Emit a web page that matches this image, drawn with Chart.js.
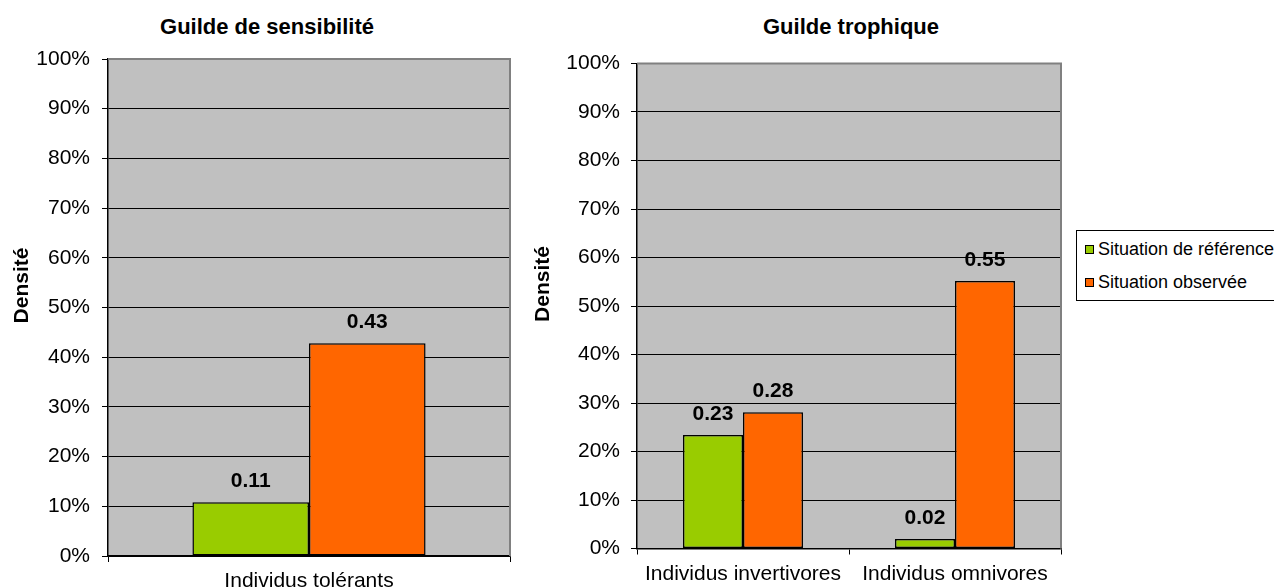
<!DOCTYPE html>
<html>
<head>
<meta charset="utf-8">
<script src="https://cdn.jsdelivr.net/npm/chart.js@4"></script>
<style>
  body { margin: 0; width: 1274px; height: 588px; overflow: hidden; background: #fff; position: relative; font-family: "Liberation Sans", Arial, sans-serif; }
  .box { position: absolute; top: 0; height: 588px; }
  #boxA { left: 0; width: 530px; }
  #boxB { left: 520px; width: 560px; }
  .title { position: absolute; top: 15px; font-weight: bold; font-size: 22px; line-height: 24px; white-space: nowrap; transform: translateX(-50%); }
  #legend { position: absolute; left: 1076px; top: 230px; width: 230px; height: 69px; border: 1px solid #000; background: #fff; font-size: 18px; }
  .item { position: absolute; left: 8px; height: 20px; line-height: 20px; white-space: nowrap; }
  .item span { display: inline-block; width: 7px; height: 7px; border: 1.5px solid #000; margin-right: 4px; vertical-align: 1px; }
</style>
</head>
<body>
<div class="title" style="left:267px">Guilde de sensibilité</div>
<div class="title" style="left:851px">Guilde trophique</div>
<div class="box" id="boxA"><canvas id="chartA"></canvas></div>
<div class="box" id="boxB"><canvas id="chartB"></canvas></div>
<div id="legend">
  <div class="item" style="top:8px"><span style="background:#99cc00"></span>Situation de référence</div>
  <div class="item" style="top:41px"><span style="background:#ff6600"></span>Situation observée</div>
</div>
<script>
const seriesNames = ['Situation de référence', 'Situation observée'];
const seriesColors = ['#99cc00', '#ff6600'];

const sensLabels = ['Individus tolérants'];
const sensReference = [0.108];
const sensObserved = [0.428];

const trophLabels = ['Individus invertivores', 'Individus omnivores'];
const trophReference = [0.234, 0.0196];
const trophObserved = [0.281, 0.5515];

const yTickLabels = ['0%', '10%', '20%', '30%', '40%', '50%', '60%', '70%', '80%', '90%', '100%'];
const yAxisTitle = 'Densité';

Chart.defaults.font.family = '"Liberation Sans", Arial, sans-serif';
Chart.defaults.color = '#000';

// grey plot background, grey top/right frame, value labels, y axis title
const plotFrame = {
    id: 'plotFrame',
    beforeDraw(chart) {
        const { ctx, chartArea: a } = chart;
        ctx.save();
        ctx.fillStyle = '#c0c0c0';
        ctx.fillRect(a.left, a.top, a.width, a.height);
        ctx.restore();
    },
    beforeDatasetsDraw(chart) {
        const { ctx, chartArea: a } = chart;
        ctx.save();
        ctx.strokeStyle = '#808080';
        ctx.lineWidth = 2;
        ctx.beginPath();
        ctx.moveTo(a.left, a.top);
        ctx.lineTo(a.right, a.top);
        ctx.lineTo(a.right, a.bottom);
        ctx.stroke();
        ctx.restore();
    },
    afterDatasetsDraw(chart) {
        const ctx = chart.ctx;
        ctx.save();
        ctx.font = 'bold 21px "Liberation Sans", Arial, sans-serif';
        ctx.fillStyle = '#000';
        ctx.textAlign = 'center';
        ctx.textBaseline = 'alphabetic';
        chart.data.datasets.forEach((ds, i) => {
            chart.getDatasetMeta(i).data.forEach((bar, j) => {
                ctx.fillText(ds.data[j].toFixed(2), bar.x, bar.y - 15);
            });
        });
        ctx.restore();
    },
    afterDraw(chart, args, opts) {
        const { ctx, chartArea: a } = chart;
        ctx.save();
        ctx.translate(opts.titleX, (a.top + a.bottom) / 2 - opts.titleShift);
        ctx.rotate(-Math.PI / 2);
        ctx.font = 'bold 21px "Liberation Sans", Arial, sans-serif';
        ctx.fillStyle = '#000';
        ctx.textAlign = 'center';
        ctx.textBaseline = 'middle';
        ctx.fillText(yAxisTitle, 0, 0);
        ctx.restore();
    }
};

function makeChart(id, labels, ref, obs, opts) {
    const ctx = document.getElementById(id).getContext('2d');
    return new Chart(ctx, {
        type: 'bar',
        data: {
            labels: labels,
            datasets: [{
                label: seriesNames[0],
                data: ref,
                backgroundColor: seriesColors[0],
                borderColor: '#000',
                borderWidth: 1.5,
                borderSkipped: false
            }, {
                label: seriesNames[1],
                data: obs,
                backgroundColor: seriesColors[1],
                borderColor: '#000',
                borderWidth: 1.5,
                borderSkipped: false
            }]
        },
        options: {
            responsive: true,
            maintainAspectRatio: false,
            animation: false,
            categoryPercentage: opts.catPct,
            barPercentage: 1,
            layout: { padding: opts.padding },
            plugins: {
                legend: { display: false },
                tooltip: { enabled: false },
                plotFrame: { titleX: opts.titleX, titleShift: 22 }
            },
            scales: {
                x: {
                    grid: { drawOnChartArea: false, tickLength: 6, color: '#000' },
                    border: { color: '#000', width: 1.5 },
                    ticks: { color: '#000', font: { size: 21 }, padding: 7, maxRotation: 0 },
                    afterFit(scale) { scale.height = opts.xHeight; }
                },
                y: {
                    min: 0,
                    max: 1,
                    ticks: {
                        stepSize: 0.1,
                        color: '#000',
                        font: { size: 21 },
                        padding: opts.yPad,
                        callback: (v, i) => yTickLabels[i]
                    },
                    grid: { color: '#000', tickLength: 6 },
                    border: { color: '#000', width: 1.5 },
                    afterFit(scale) { scale.width = opts.yWidth; }
                }
            }
        },
        plugins: [plotFrame]
    });
}

makeChart('chartA', sensLabels, sensReference, sensObserved, {
    catPct: 0.58,
    padding: { left: 8, top: 59, right: 20, bottom: 0 },
    xHeight: 32,
    yWidth: 100,
    yPad: 12,
    titleX: 22
});

makeChart('chartB', trophLabels, trophReference, trophObserved, {
    catPct: 0.566,
    padding: { left: 10, top: 63.5, right: 19, bottom: 0 },
    xHeight: 39.5,
    yWidth: 107,
    yPad: 11,
    titleX: 23
});
</script>
</body>
</html>
